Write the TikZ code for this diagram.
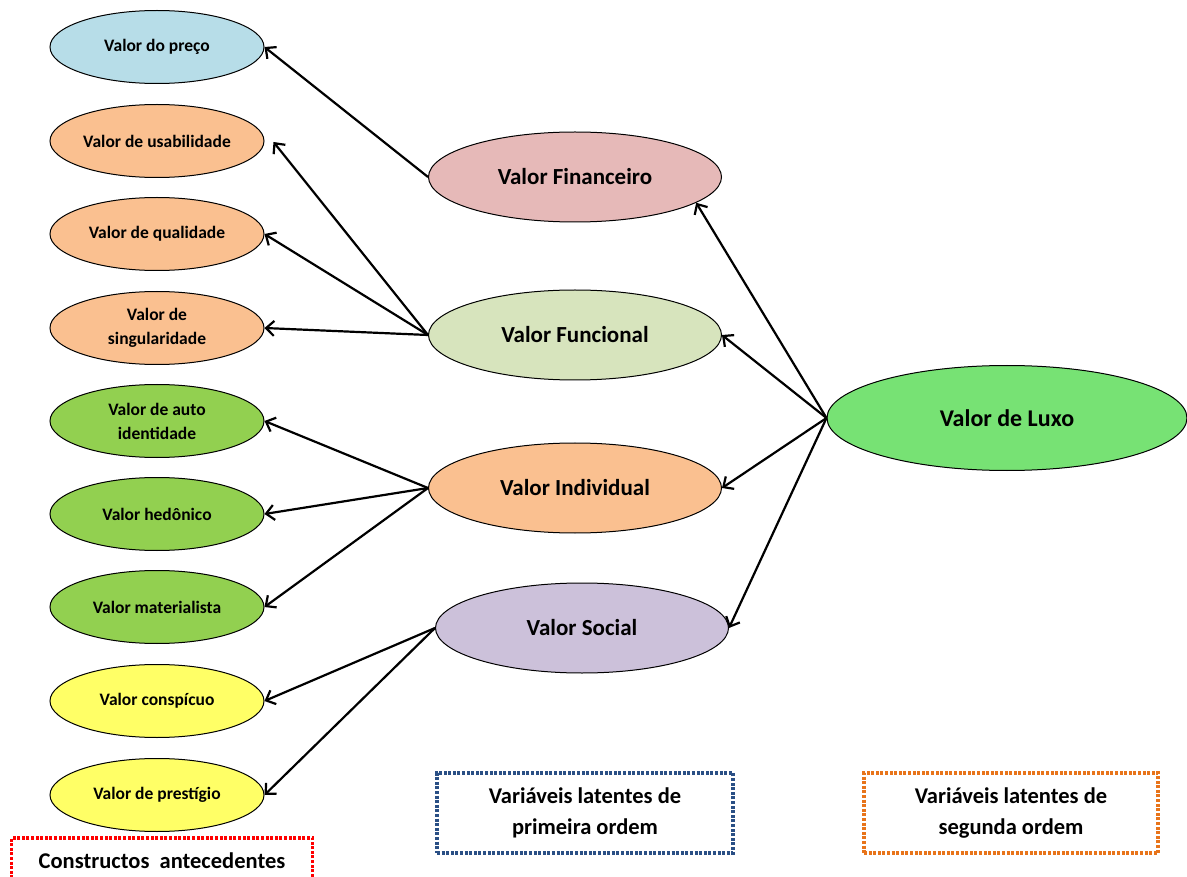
\documentclass[tikz,border=0pt]{standalone}
\usepackage{fontspec}
\setmainfont{Carlito}
\usetikzlibrary{arrows.meta,shapes.geometric,positioning}
\definecolor{azulc}{HTML}{B7DDE8}
\definecolor{pessego}{HTML}{FAC090}
\definecolor{verdef}{HTML}{92D050}
\definecolor{amarelo}{HTML}{FFFF66}
\definecolor{rosa}{HTML}{E6B9B8}
\definecolor{verdec}{HTML}{D7E4BD}
\definecolor{lilas}{HTML}{CCC1DA}
\definecolor{verdel}{HTML}{77E274}
\definecolor{azulesc}{HTML}{2A4F85}
\definecolor{laranja}{HTML}{E8741A}

\begin{document}
\begin{tikzpicture}[
  x=1pt, y=-1pt,
  >={Straight Barb[length=8pt,width=15pt,line width=2.2pt]},
  ind/.style={draw, line width=1pt, ellipse, minimum width=214pt, minimum height=73pt,
              inner sep=0pt, align=center, font=\bfseries\fontsize{17.5}{24}\selectfont},
  lat/.style={draw, line width=1pt, ellipse, minimum width=293pt, minimum height=90pt,
              inner sep=0pt, font=\bfseries\fontsize{23}{26}\selectfont},
  seta/.style={->, line width=2.2pt},
  legenda/.style={line width=3.4pt, dash pattern=on 3pt off 1.6pt, align=center,
                  inner sep=0pt, font=\bfseries\fontsize{22.5}{31}\selectfont}
]
\useasboundingbox (0,0) rectangle (1187,877);
\clip (0,0) rectangle (1187,877);

% constructos antecedentes
\node[ind, fill=azulc]   (preco)  at (157,47)  {Valor do preço};
\node[ind, fill=pessego] (usab)   at (157,141) {Valor de usabilidade};
\node[ind, fill=pessego] (qual)   at (157,234) {Valor de qualidade};
\node[ind, fill=pessego] (sing)   at (157,328) {Valor de\\ singularidade};
\node[ind, fill=verdef]  (auto)   at (157,421) {Valor de auto\\ identidade};
\node[ind, fill=verdef]  (hedon)  at (157,514) {Valor hedônico};
\node[ind, fill=verdef]  (mater)  at (157,607) {Valor materialista};
\node[ind, fill=amarelo] (consp)  at (157,701) {Valor conspícuo};
\node[ind, fill=amarelo] (prest)  at (157,795) {Valor de prestígio};

% primeira ordem
\node[lat, fill=rosa]    (fin)    at (575,177) {Valor Financeiro};
\node[lat, fill=verdec]  (func)   at (575,335) {Valor Funcional};
\node[lat, fill=pessego] (indiv)  at (575,488) {Valor Individual};
\node[lat, fill=lilas]   (soc)    at (582,628) {Valor Social};

% segunda ordem
\node[draw, line width=1pt, ellipse, fill=verdel, minimum width=360pt, minimum height=105pt,
      font=\bfseries\fontsize{24}{28}\selectfont] (luxo) at (1007,418) {Valor de Luxo};

\draw[seta] (fin.west) -- (preco.east);
\draw[seta] (func.west) -- ([xshift=9pt,yshift=-1pt]usab.east);
\draw[seta] (func.west) -- (qual.east);
\draw[seta] (func.west) -- (sing.east);
\draw[seta] (indiv.west) -- (auto.east);
\draw[seta] (indiv.west) -- (hedon.east);
\draw[seta] (indiv.west) -- (mater.east);
\draw[seta] (soc.west) -- (consp.east);
\draw[seta] (soc.west) -- (prest.east);

\draw[seta] (luxo.west) -- (fin.-12);
\draw[seta] (luxo.west) -- (func.east);
\draw[seta] (luxo.west) -- (indiv.east);
\draw[seta] (luxo.west) -- (soc.east);

% legendas
\node[legenda, draw=red, minimum width=301pt, minimum height=46pt] (leg1) at (162,861)
  {Constructos\ \ antecedentes};
\node[legenda, draw=azulesc, minimum width=296pt, minimum height=80pt] (leg2) at (585,813)
  {Variáveis latentes de\\ primeira ordem};
\node[legenda, draw=laranja, minimum width=294pt, minimum height=80pt] (leg3) at (1011,813)
  {Variáveis latentes de\\ segunda ordem};
\end{tikzpicture}
\end{document}
